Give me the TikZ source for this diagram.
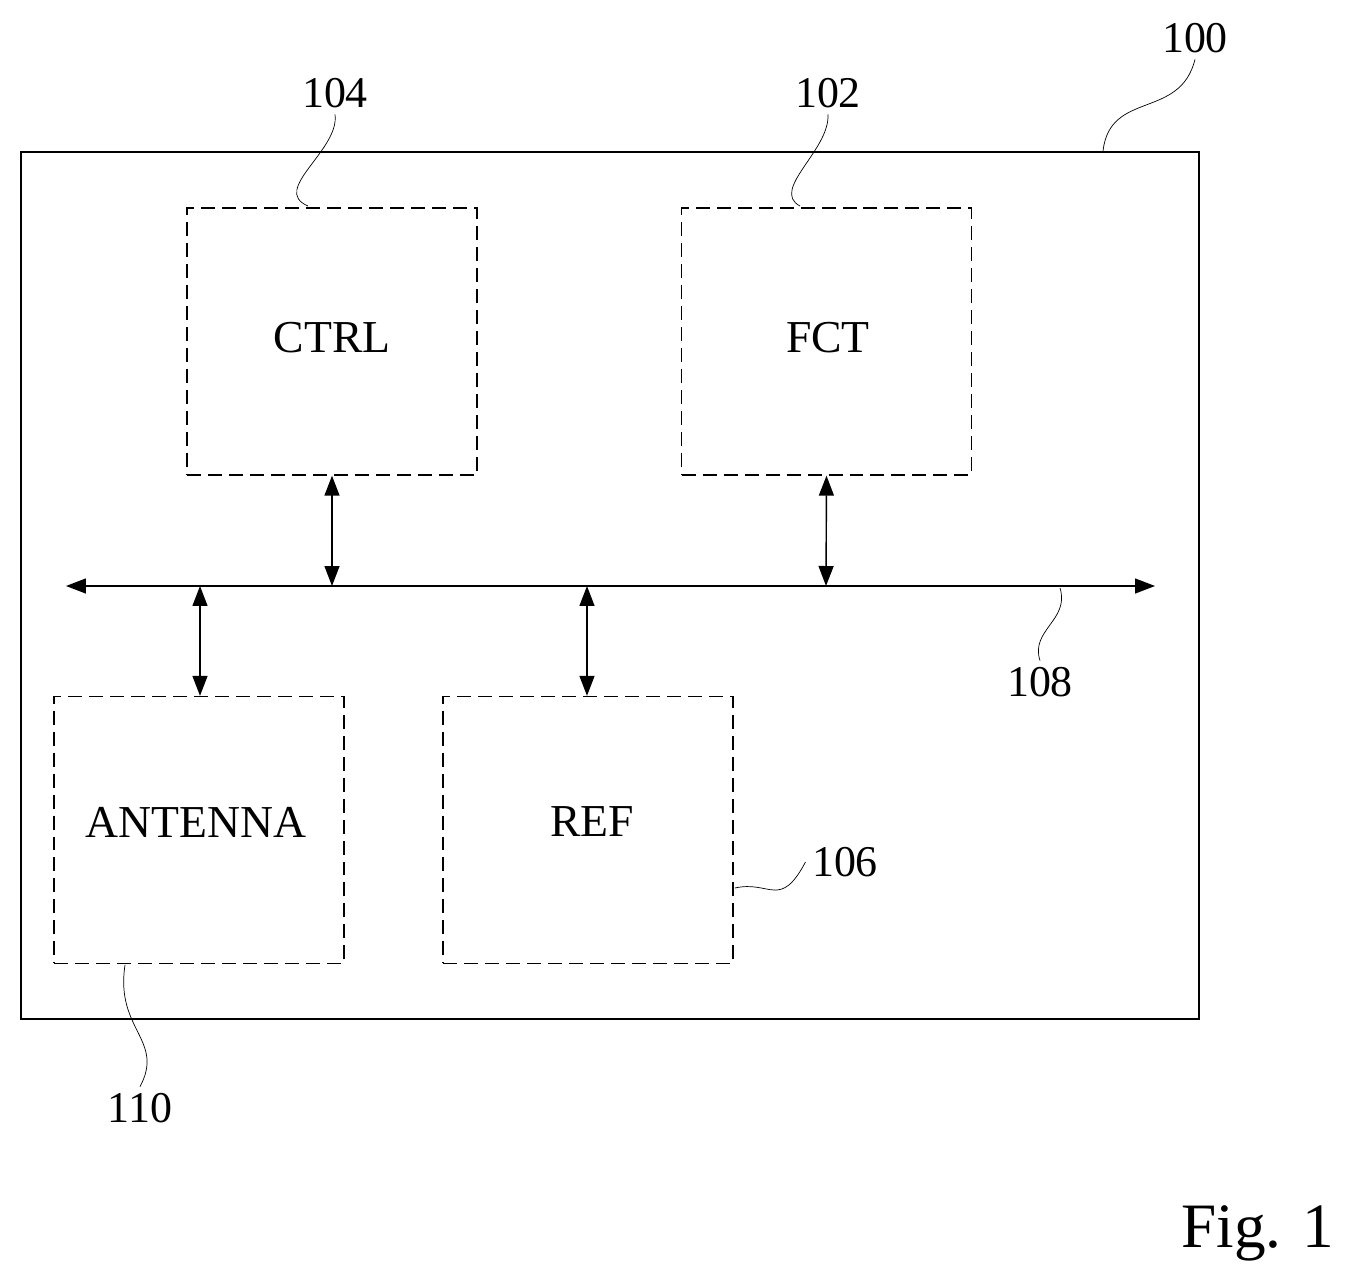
\documentclass[tikz,border=0pt]{standalone}
\usepackage{fontspec}
\setmainfont{Liberation Serif}
\usetikzlibrary{arrows.meta}
\begin{document}
\begin{tikzpicture}[x=0.02cm,y=-0.02cm, thick,
  blk/.style = {draw,dash pattern=on 2.8mm off 1.4mm,minimum width=5.8cm,minimum height=5.34cm,inner sep=0pt},
  lbl/.style = {font=\fontsize{25}{30}\selectfont},
  bus/.style = {{Triangle[length=4mm,width=3mm]}-{Triangle[length=4mm,width=3mm]}},
  lead/.style = {thin}]
  \useasboundingbox (0,0) rectangle (1347,1288);
  \node[draw,minimum width=23.56cm,minimum height=17.34cm,inner sep=0pt] (dev) at (610,585.5) {};
  \node[blk] (ctrl) at (332,341.5) {};
  \node[font=\fontsize{26}{30}\selectfont] at (332,338) {CTRL};
  \node[blk] (fct) at (826.5,341.5) {};
  \node[font=\fontsize{26}{30}\selectfont] at (828,338) {FCT};
  \node[blk] (ant) at (199,830) {};
  \node[font=\fontsize{26}{30}\selectfont] at (196,822) {ANTENNA};
  \node[blk] (ref) at (588,830) {};
  \node[font=\fontsize{26}{30}\selectfont] at (592,822) {REF};
  \coordinate (busl) at (66,586);
  \coordinate (busr) at (1155,586);
  \draw[bus] (busl) -- (busr);
  \draw[bus] (ctrl.south) -- (332,586);
  \draw[bus] (fct.south) -- (826,586);
  \draw[bus] (200,586) -- (ant.north -| 200,0);
  \draw[bus] (587,586) -- (ref.north -| 587,0);
  % reference labels
  \node[lbl] (n100) at (1195,38) {100};
  \node[lbl] (n104) at (335,93) {104};
  \node[lbl] (n102) at (828,93) {102};
  \node[lbl] (n108) at (1040,682) {108};
  \node[lbl] (n106) at (845,862) {106};
  \node[lbl] (n110) at (140,1108) {110};
  \draw[lead] (1103,151) .. controls (1110,90) and (1180,120) .. (n100.south);
  \draw[lead] (308,206) .. controls (270,190) and (340,150) .. (n104.south);
  \draw[lead] (800,206) .. controls (770,190) and (830,150) .. (n102.south);
  \draw[lead] (1060,588) .. controls (1070,620) and (1030,630) .. (n108.north);
  \draw[lead] (735,888) .. controls (770,880) and (780,910) .. (n106.west);
  \draw[lead] (125,965) .. controls (115,1030) and (165,1040) .. (n110.north);
  \node[font=\fontsize{36}{42}\selectfont] (fig) at (1258,1233) {Fig. 1};
\end{tikzpicture}
\end{document}
